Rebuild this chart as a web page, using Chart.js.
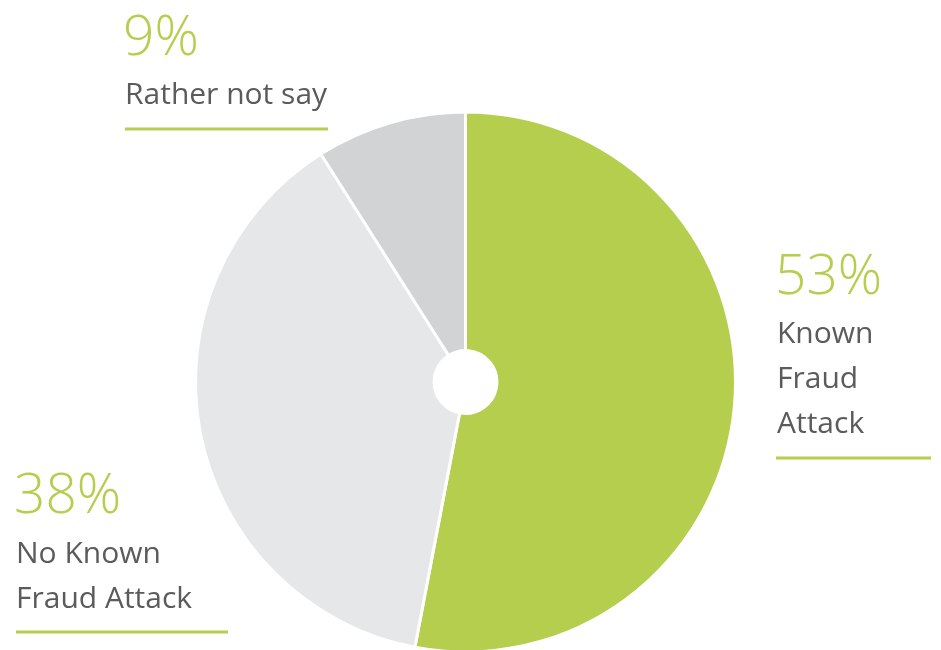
<!DOCTYPE html>
<html lang="en">
<head>
  <meta charset="UTF-8">
  <title>Fraud attack</title>
  <script src="https://cdn.jsdelivr.net/npm/chart.js"></script>
  <style>
    html, body {
      margin: 0;
      padding: 0;
      background: #ffffff;
    }
    .wrap {
      width: 941px;
      height: 650px;
      position: relative;
    }
  </style>
</head>
<body>
  <div class="wrap">
    <canvas id="pie"></canvas>
  </div>

  <script>
    const categories = ['Known Fraud Attack', 'No Known Fraud Attack', 'Rather not say'];
    const shares = [53, 38, 9];
    const sliceColors = ['#b6ce4e', '#e6e7e9', '#d2d3d5'];

    // label blocks: percentage, text lines, underline
    const labelBlocks = [
      { x: 775, pctY: 294, lines: ['Known', 'Fraud', 'Attack'], lineY: 343, rule: [776, 931, 458] },
      { x: 14, pctY: 513, lines: ['No Known', 'Fraud Attack'], lineY: 563, rule: [16, 228, 632] },
      { x: 123, pctY: 55, lines: ['Rather not say'], lineY: 104, rule: [125, 328, 129] }
    ];

    const labelPlugin = {
      id: 'labels',
      afterDraw(chart) {
        const c = chart.ctx;
        c.save();
        c.textAlign = 'left';
        c.textBaseline = 'alphabetic';
        labelBlocks.forEach((b, i) => {
          c.fillStyle = '#b6ce4e';
          c.font = '300 55px "Open Sans", sans-serif';
          c.fillText(shares[i] + '%', b.x, b.pctY);
          c.fillStyle = '#5b5b5b';
          c.font = '400 30px "Open Sans", sans-serif';
          b.lines.forEach((t, k) => c.fillText(t, b.x + 2, b.lineY + k * 45));
          c.strokeStyle = '#b6ce4e';
          c.lineWidth = 3;
          c.beginPath();
          c.moveTo(b.rule[0], b.rule[2]);
          c.lineTo(b.rule[1], b.rule[2]);
          c.stroke();
        });
        c.restore();
      }
    };

    new Chart(document.getElementById('pie'), {
      type: 'doughnut',
      data: {
        labels: categories,
        datasets: [{
          data: shares,
          backgroundColor: sliceColors,
          borderColor: '#ffffff',
          borderWidth: 3
        }]
      },
      options: {
        responsive: true,
        maintainAspectRatio: false,
        animation: false,
        radius: 270,
        cutout: 31,
        layout: {
          padding: { top: 114, bottom: 0, left: 196, right: 206 }
        },
        plugins: {
          legend: { display: false },
          tooltip: { enabled: false }
        }
      },
      plugins: [labelPlugin]
    });
  </script>
</body>
</html>
